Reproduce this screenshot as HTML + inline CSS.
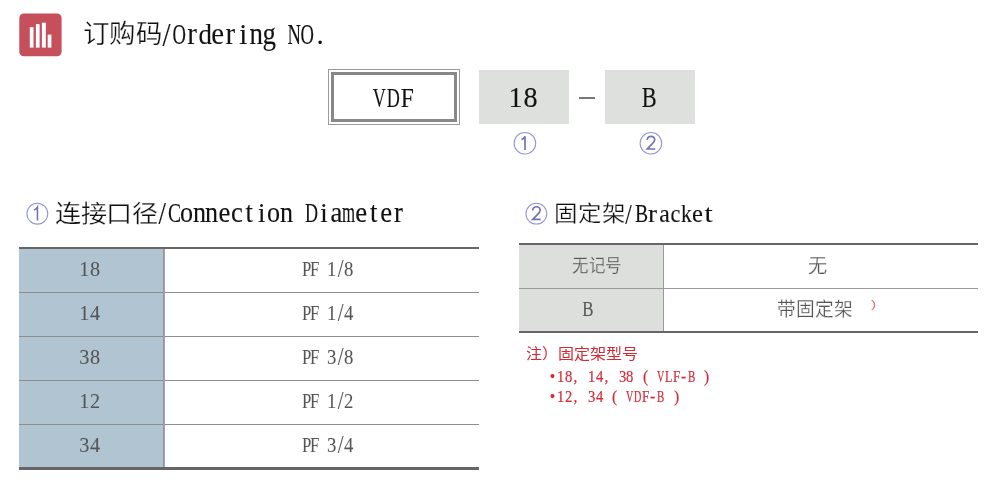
<!DOCTYPE html>
<html lang="zh-CN">
<head>
<meta charset="utf-8">
<style>
html,body{margin:0;padding:0;background:#fff;}
body{width:993px;height:486px;position:relative;overflow:hidden;font-family:"Liberation Sans",sans-serif;}
.a{position:absolute;}
.t{position:absolute;white-space:pre;line-height:1;will-change:transform;}
.m{font-family:"Liberation Mono",monospace;}
.s,.ms{font-family:"Liberation Serif",serif;}
.sx{display:inline-block;transform-origin:0 0;}
.ms i{position:absolute;top:0;font-style:normal;text-align:center;transform-origin:50% 0;}
.cj{font-weight:300;}
</style>
</head>
<body>
<svg class="a" style="left:0;top:0" width="80" height="70" viewBox="0 0 80 70">
<rect x="19.3" y="13.4" width="42.3" height="42.8" rx="4.5" fill="#c5505c"/>
<rect x="29.8" y="27.2" width="3.7" height="20.4" fill="#fff"/>
<rect x="35.9" y="24.1" width="3.7" height="23.5" fill="#fff"/>
<rect x="41.9" y="22.7" width="3.9" height="24.9" fill="#fff"/>
<rect x="47.7" y="34.6" width="3.7" height="13.0" fill="#fff"/>
</svg>
<div class="a" style="left:328px;top:69px;width:130px;height:54px;border:1px solid #9a9a9a;"></div>
<div class="a" style="left:331px;top:72px;width:120px;height:44px;border:3px solid #888;"></div>
<div class="a" style="left:479px;top:70px;width:90px;height:54px;background:#dde0dd;"></div>
<div class="a" style="left:579px;top:97px;width:16px;height:2px;background:#777;"></div>
<div class="a" style="left:605px;top:70px;width:90px;height:54px;background:#dde0dd;"></div>
<svg class="a" style="left:0;top:0" width="993" height="486">
<g fill="none" stroke="#9494d4" stroke-width="1.05">
<circle cx="524.9" cy="143.2" r="10.8"/>
<circle cx="650.9" cy="143.2" r="10.8"/>
<circle cx="37.35" cy="213.7" r="10.4"/>
<circle cx="536.35" cy="213.65" r="10.4"/>
</g>
<g fill="none" stroke="#7272bc" stroke-width="1.7">
<path transform="translate(524.9,143.2)" d="M-3.4,-3.6 C-1.8,-4.3 -0.6,-5.4 0.1,-6.9 L0.1,6.7"/>
<path transform="translate(650.9,143.2)" d="M-3.6,-3.2 C-3.6,-5.6 -2,-6.9 0.2,-6.9 C2.4,-6.9 3.8,-5.4 3.8,-3.5 C3.8,-1.6 2.6,-0.4 0.8,1.2 L-3.6,5.8 L4.3,5.8"/>
<path transform="translate(37.35,213.7)" stroke-width="1.55" d="M-3.4,-3.6 C-1.8,-4.3 -0.6,-5.4 0.1,-6.6 L0.1,6.7"/>
<path transform="translate(536.35,213.65)" d="M-3.6,-3.2 C-3.6,-5.6 -2,-6.9 0.2,-6.9 C2.4,-6.9 3.8,-5.4 3.8,-3.5 C3.8,-1.6 2.6,-0.4 0.8,1.2 L-3.6,5.8 L4.3,5.8"/>
</g>
</svg>
<div class="a" style="left:19px;top:249px;width:145px;height:218px;background:#b0c4d1;"></div>
<div class="a" style="left:19px;top:247px;width:460px;height:2px;background:#666;"></div>
<div class="a" style="left:19px;top:292px;width:460px;height:1px;background:#8d8d8d;"></div>
<div class="a" style="left:19px;top:336px;width:460px;height:1px;background:#8d8d8d;"></div>
<div class="a" style="left:19px;top:380px;width:460px;height:1px;background:#8d8d8d;"></div>
<div class="a" style="left:19px;top:424px;width:460px;height:1px;background:#8d8d8d;"></div>
<div class="a" style="left:163px;top:249px;width:1px;height:218px;background:#8a98a2;"></div><div class="a" style="left:164px;top:249px;width:1px;height:218px;background:#a4a4a4;"></div>
<div class="a" style="left:19px;top:467px;width:460px;height:3px;background:#666;"></div>
<div class="a" style="left:519px;top:245px;width:145px;height:86px;background:#dcdfdc;"></div>
<div class="a" style="left:519px;top:243px;width:459px;height:2px;background:#666;"></div>
<div class="a" style="left:519px;top:288px;width:459px;height:1px;background:#9a9a9a;"></div>
<div class="a" style="left:663px;top:245px;width:1px;height:86px;background:#9a9a9a;"></div>
<div class="a" style="left:519px;top:331px;width:459px;height:2px;background:#666;"></div>
<div id="title_cj" class="t cj" style="left:83.00px;top:21.40px;font-size:26.00px;color:#111;-webkit-text-stroke:0.25px #fff"><span class="sx" style="transform:scaleX(1.0176)">订购码</span></div>
<div id="title_lat" class="t ms" style="left:160.40px;top:20.30px;font-size:28.86px;color:#111;width:166.4px;height:34.6px;-webkit-text-stroke:0.12px #111"><i style="left:-12.80px;width:38.40px;transform:scaleX(1.000) scaleY(1.200);transform-origin:50% 50%">/</i><i style="left:0.00px;width:38.40px;transform:scaleX(0.645)">O</i><i style="left:12.80px;width:38.40px;transform:scaleX(1.000) scaleY(1.100);transform-origin:50% 0.8375em">r</i><i style="left:25.60px;width:38.40px;transform:scaleX(0.931)">d</i><i style="left:38.40px;width:38.40px;transform:scaleX(1.000) scaleY(1.100);transform-origin:50% 0.8375em">e</i><i style="left:51.20px;width:38.40px;transform:scaleX(1.000) scaleY(1.100);transform-origin:50% 0.8375em">r</i><i style="left:64.00px;width:38.40px;transform:scaleX(1.000)">i</i><i style="left:76.80px;width:38.40px;transform:scaleX(0.931) scaleY(1.100);transform-origin:50% 0.8375em">n</i><i style="left:89.60px;width:38.40px;transform:scaleX(0.931) scaleY(1.100);transform-origin:50% 0.8375em">g</i><i style="left:115.20px;width:38.40px;transform:scaleX(0.645)">N</i><i style="left:128.00px;width:38.40px;transform:scaleX(0.645)">O</i><i style="left:140.80px;width:38.40px;transform:scaleX(1.000)">.</i></div>
<div id="vdf" class="t ms" style="left:371.50px;top:83.50px;font-size:28.00px;color:#111;width:42.7px;height:33.6px;-webkit-text-stroke:0.12px #111"><i style="left:-14.22px;width:42.66px;transform:scaleX(0.647)">V</i><i style="left:0.00px;width:42.66px;transform:scaleX(0.647)">D</i><i style="left:14.22px;width:42.66px;transform:scaleX(0.840)">F</i></div>
<div id="b18" class="t ms" style="left:508.10px;top:83.70px;font-size:28.50px;color:#111;width:30.0px;height:34.2px;-webkit-text-stroke:0.12px #111"><i style="left:-15.02px;width:45.07px;transform:scaleX(0.990)">1</i><i style="left:0.00px;width:45.07px;transform:scaleX(0.990)">8</i></div>
<div id="bB" class="t ms" style="left:641.50px;top:84.30px;font-size:28.50px;color:#111;width:14.2px;height:34.2px;-webkit-text-stroke:0.12px #111"><i style="left:-14.20px;width:42.59px;transform:scaleX(0.784)">B</i></div>
<div id="h1_cj" class="t cj" style="left:54.60px;top:203.00px;font-size:23.50px;color:#111;-webkit-text-stroke:0.25px #fff"><span class="sx" style="transform:scaleX(1.1114)">连接口径</span></div>
<div id="h1_lat" class="t ms" style="left:156.00px;top:200.00px;font-size:26.70px;color:#111;width:248.7px;height:32.0px;-webkit-text-stroke:0.12px #111"><i style="left:-12.44px;width:37.31px;transform:scaleX(1.000) scaleY(1.200);transform-origin:50% 50%">/</i><i style="left:0.00px;width:37.31px;transform:scaleX(0.733)">C</i><i style="left:12.44px;width:37.31px;transform:scaleX(0.978) scaleY(1.100);transform-origin:50% 0.8375em">o</i><i style="left:24.87px;width:37.31px;transform:scaleX(0.978) scaleY(1.100);transform-origin:50% 0.8375em">n</i><i style="left:37.31px;width:37.31px;transform:scaleX(0.978) scaleY(1.100);transform-origin:50% 0.8375em">n</i><i style="left:49.74px;width:37.31px;transform:scaleX(1.000) scaleY(1.100);transform-origin:50% 0.8375em">e</i><i style="left:62.18px;width:37.31px;transform:scaleX(1.000) scaleY(1.100);transform-origin:50% 0.8375em">c</i><i style="left:74.62px;width:37.31px;transform:scaleX(1.000) scaleY(1.100);transform-origin:50% 0.8375em">t</i><i style="left:87.05px;width:37.31px;transform:scaleX(1.000)">i</i><i style="left:99.49px;width:37.31px;transform:scaleX(0.978) scaleY(1.100);transform-origin:50% 0.8375em">o</i><i style="left:111.93px;width:37.31px;transform:scaleX(0.978) scaleY(1.100);transform-origin:50% 0.8375em">n</i><i style="left:136.80px;width:37.31px;transform:scaleX(0.677)">D</i><i style="left:149.23px;width:37.31px;transform:scaleX(1.000)">i</i><i style="left:161.67px;width:37.31px;transform:scaleX(1.000) scaleY(1.100);transform-origin:50% 0.8375em">a</i><i style="left:174.11px;width:37.31px;transform:scaleX(0.629) scaleY(1.100);transform-origin:50% 0.8375em">m</i><i style="left:186.54px;width:37.31px;transform:scaleX(1.000) scaleY(1.100);transform-origin:50% 0.8375em">e</i><i style="left:198.98px;width:37.31px;transform:scaleX(1.000) scaleY(1.100);transform-origin:50% 0.8375em">t</i><i style="left:211.42px;width:37.31px;transform:scaleX(1.000) scaleY(1.100);transform-origin:50% 0.8375em">e</i><i style="left:223.85px;width:37.31px;transform:scaleX(1.000) scaleY(1.100);transform-origin:50% 0.8375em">r</i></div>
<div id="h2_cj" class="t cj" style="left:553.90px;top:203.40px;font-size:21.73px;color:#111;-webkit-text-stroke:0.25px #fff"><span class="sx" style="transform:scaleX(1.0812)">固定架</span></div>
<div id="h2_lat" class="t ms" style="left:624.00px;top:201.50px;font-size:24.60px;color:#111;width:88.0px;height:29.5px;-webkit-text-stroke:0.12px #111"><i style="left:-11.75px;width:33.00px;transform:scaleX(0.950) scaleY(1.220);transform-origin:50% 50%">/</i><i style="left:1.05px;width:33.00px;transform:scaleX(0.800)">B</i><i style="left:12.20px;width:33.00px;transform:scaleX(1.100)">r</i><i style="left:23.50px;width:33.00px;transform:scaleX(0.970)">a</i><i style="left:34.60px;width:33.00px;transform:scaleX(0.900)">c</i><i style="left:45.70px;width:33.00px;transform:scaleX(0.880)">k</i><i style="left:57.05px;width:33.00px;transform:scaleX(1.000)">e</i><i style="left:68.15px;width:33.00px;transform:scaleX(1.200)">t</i></div>
<div id="t1r1" class="t ms" style="left:79.20px;top:259.20px;font-size:20.26px;color:#555;width:21.3px;height:24.3px;-webkit-text-stroke:0.05px #555"><i style="left:-10.66px;width:31.99px;transform:scaleX(1.000)">1</i><i style="left:0.00px;width:31.99px;transform:scaleX(1.000)">8</i></div>
<div id="t1r2" class="t ms" style="left:79.20px;top:303.20px;font-size:20.26px;color:#555;width:21.3px;height:24.3px;-webkit-text-stroke:0.05px #555"><i style="left:-10.66px;width:31.99px;transform:scaleX(1.000)">1</i><i style="left:0.00px;width:31.99px;transform:scaleX(1.000)">4</i></div>
<div id="t1r3" class="t ms" style="left:79.20px;top:347.20px;font-size:20.26px;color:#555;width:21.3px;height:24.3px;-webkit-text-stroke:0.05px #555"><i style="left:-10.66px;width:31.99px;transform:scaleX(1.000)">3</i><i style="left:0.00px;width:31.99px;transform:scaleX(1.000)">8</i></div>
<div id="t1r4" class="t ms" style="left:79.20px;top:391.20px;font-size:20.26px;color:#555;width:21.3px;height:24.3px;-webkit-text-stroke:0.05px #555"><i style="left:-10.66px;width:31.99px;transform:scaleX(1.000)">1</i><i style="left:0.00px;width:31.99px;transform:scaleX(1.000)">2</i></div>
<div id="t1r5" class="t ms" style="left:79.20px;top:435.20px;font-size:20.26px;color:#555;width:21.3px;height:24.3px;-webkit-text-stroke:0.05px #555"><i style="left:-10.66px;width:31.99px;transform:scaleX(1.000)">3</i><i style="left:0.00px;width:31.99px;transform:scaleX(1.000)">4</i></div>
<div id="t1p1" class="t ms" style="left:301.80px;top:259.40px;font-size:20.26px;color:#555;width:51.0px;height:24.3px;-webkit-text-stroke:0.05px #555"><i style="left:-8.50px;width:25.51px;transform:scaleX(0.830)">P</i><i style="left:0.00px;width:25.51px;transform:scaleX(0.830)">F</i><i style="left:17.01px;width:25.51px;transform:scaleX(0.923)">1</i><i style="left:25.51px;width:25.51px;transform:scaleX(1.040) scaleY(1.200);transform-origin:50% 50%">/</i><i style="left:34.02px;width:25.51px;transform:scaleX(0.923)">8</i></div>
<div id="t1p2" class="t ms" style="left:301.80px;top:303.40px;font-size:20.26px;color:#555;width:51.0px;height:24.3px;-webkit-text-stroke:0.05px #555"><i style="left:-8.50px;width:25.51px;transform:scaleX(0.830)">P</i><i style="left:0.00px;width:25.51px;transform:scaleX(0.830)">F</i><i style="left:17.01px;width:25.51px;transform:scaleX(0.923)">1</i><i style="left:25.51px;width:25.51px;transform:scaleX(1.040) scaleY(1.200);transform-origin:50% 50%">/</i><i style="left:34.02px;width:25.51px;transform:scaleX(0.923)">4</i></div>
<div id="t1p3" class="t ms" style="left:301.80px;top:347.40px;font-size:20.26px;color:#555;width:51.0px;height:24.3px;-webkit-text-stroke:0.05px #555"><i style="left:-8.50px;width:25.51px;transform:scaleX(0.830)">P</i><i style="left:0.00px;width:25.51px;transform:scaleX(0.830)">F</i><i style="left:17.01px;width:25.51px;transform:scaleX(0.923)">3</i><i style="left:25.51px;width:25.51px;transform:scaleX(1.040) scaleY(1.200);transform-origin:50% 50%">/</i><i style="left:34.02px;width:25.51px;transform:scaleX(0.923)">8</i></div>
<div id="t1p4" class="t ms" style="left:301.80px;top:391.40px;font-size:20.26px;color:#555;width:51.0px;height:24.3px;-webkit-text-stroke:0.05px #555"><i style="left:-8.50px;width:25.51px;transform:scaleX(0.830)">P</i><i style="left:0.00px;width:25.51px;transform:scaleX(0.830)">F</i><i style="left:17.01px;width:25.51px;transform:scaleX(0.923)">1</i><i style="left:25.51px;width:25.51px;transform:scaleX(1.040) scaleY(1.200);transform-origin:50% 50%">/</i><i style="left:34.02px;width:25.51px;transform:scaleX(0.923)">2</i></div>
<div id="t1p5" class="t ms" style="left:301.80px;top:435.40px;font-size:20.26px;color:#555;width:51.0px;height:24.3px;-webkit-text-stroke:0.05px #555"><i style="left:-8.50px;width:25.51px;transform:scaleX(0.830)">P</i><i style="left:0.00px;width:25.51px;transform:scaleX(0.830)">F</i><i style="left:17.01px;width:25.51px;transform:scaleX(0.923)">3</i><i style="left:25.51px;width:25.51px;transform:scaleX(1.040) scaleY(1.200);transform-origin:50% 50%">/</i><i style="left:34.02px;width:25.51px;transform:scaleX(0.923)">4</i></div>
<div id="t2a" class="t cj" style="left:572.00px;top:257.20px;font-size:18.00px;color:#555;-webkit-text-stroke:0.25px #dcdfdc"><span class="sx" style="transform:scaleX(0.9172)">无记号</span></div>
<div id="t2b" class="t ms" style="left:582.20px;top:298.60px;font-size:20.26px;color:#555;width:11.9px;height:24.3px;-webkit-text-stroke:0.05px #555"><i style="left:-11.90px;width:35.70px;transform:scaleX(0.837)">B</i></div>
<div id="t2c" class="t cj" style="left:808.40px;top:255.90px;font-size:20.16px;color:#555;-webkit-text-stroke:0.25px #fff"><span class="sx" style="transform:scaleX(0.9530)">无</span></div>
<div id="t2d" class="t cj" style="left:777.30px;top:299.60px;font-size:19.68px;color:#555;-webkit-text-stroke:0.25px #fff"><span class="sx" style="transform:scaleX(0.9518)">带固定架</span></div>
<div id="t2e" class="t " style="left:871.20px;top:297.60px;font-size:11.69px;color:#e07070"><span class="sx" style="transform:scaleX(1.3285)">)</span></div>
<div id="n1" class="t cj" style="left:525.70px;top:346.10px;font-size:15.05px;color:#d42a36"><span class="sx" style="transform:scaleX(1.0664)">注）固定架型号</span></div>
<div id="n2" class="t ms" style="left:548.50px;top:368.60px;font-size:16.87px;color:#d42a36;width:161.7px;height:20.2px;-webkit-text-stroke:0.20px #d42a36"><i style="left:-7.70px;width:23.10px;transform:scaleX(0.920)">•</i><i style="left:0.00px;width:23.10px;transform:scaleX(0.867)">1</i><i style="left:7.70px;width:23.10px;transform:scaleX(0.867)">8</i><i style="left:15.40px;width:23.10px;transform:scaleX(0.920)">,</i><i style="left:30.80px;width:23.10px;transform:scaleX(0.867)">1</i><i style="left:38.50px;width:23.10px;transform:scaleX(0.867)">4</i><i style="left:46.20px;width:23.10px;transform:scaleX(0.920)">,</i><i style="left:61.60px;width:23.10px;transform:scaleX(0.867)">3</i><i style="left:69.30px;width:23.10px;transform:scaleX(0.867)">8</i><i style="left:84.70px;width:23.10px;transform:scaleX(0.920)">(</i><i style="left:100.10px;width:23.10px;transform:scaleX(0.600)">V</i><i style="left:107.80px;width:23.10px;transform:scaleX(0.710)">L</i><i style="left:115.50px;width:23.10px;transform:scaleX(0.780)">F</i><i style="left:123.20px;width:23.10px;transform:scaleX(0.920)">-</i><i style="left:130.90px;width:23.10px;transform:scaleX(0.650)">B</i><i style="left:146.30px;width:23.10px;transform:scaleX(0.920)">)</i></div>
<div id="n3" class="t ms" style="left:549.10px;top:388.30px;font-size:17.05px;color:#d42a36;width:130.9px;height:20.5px;-webkit-text-stroke:0.20px #d42a36"><i style="left:-7.70px;width:23.10px;transform:scaleX(0.920)">•</i><i style="left:0.00px;width:23.10px;transform:scaleX(0.858)">1</i><i style="left:7.70px;width:23.10px;transform:scaleX(0.858)">2</i><i style="left:15.40px;width:23.10px;transform:scaleX(0.920)">,</i><i style="left:30.80px;width:23.10px;transform:scaleX(0.858)">3</i><i style="left:38.50px;width:23.10px;transform:scaleX(0.858)">4</i><i style="left:53.90px;width:23.10px;transform:scaleX(0.920)">(</i><i style="left:69.30px;width:23.10px;transform:scaleX(0.594)">V</i><i style="left:77.00px;width:23.10px;transform:scaleX(0.594)">D</i><i style="left:84.70px;width:23.10px;transform:scaleX(0.772)">F</i><i style="left:92.40px;width:23.10px;transform:scaleX(0.920)">-</i><i style="left:100.10px;width:23.10px;transform:scaleX(0.643)">B</i><i style="left:115.50px;width:23.10px;transform:scaleX(0.920)">)</i></div>
</body>
</html>
